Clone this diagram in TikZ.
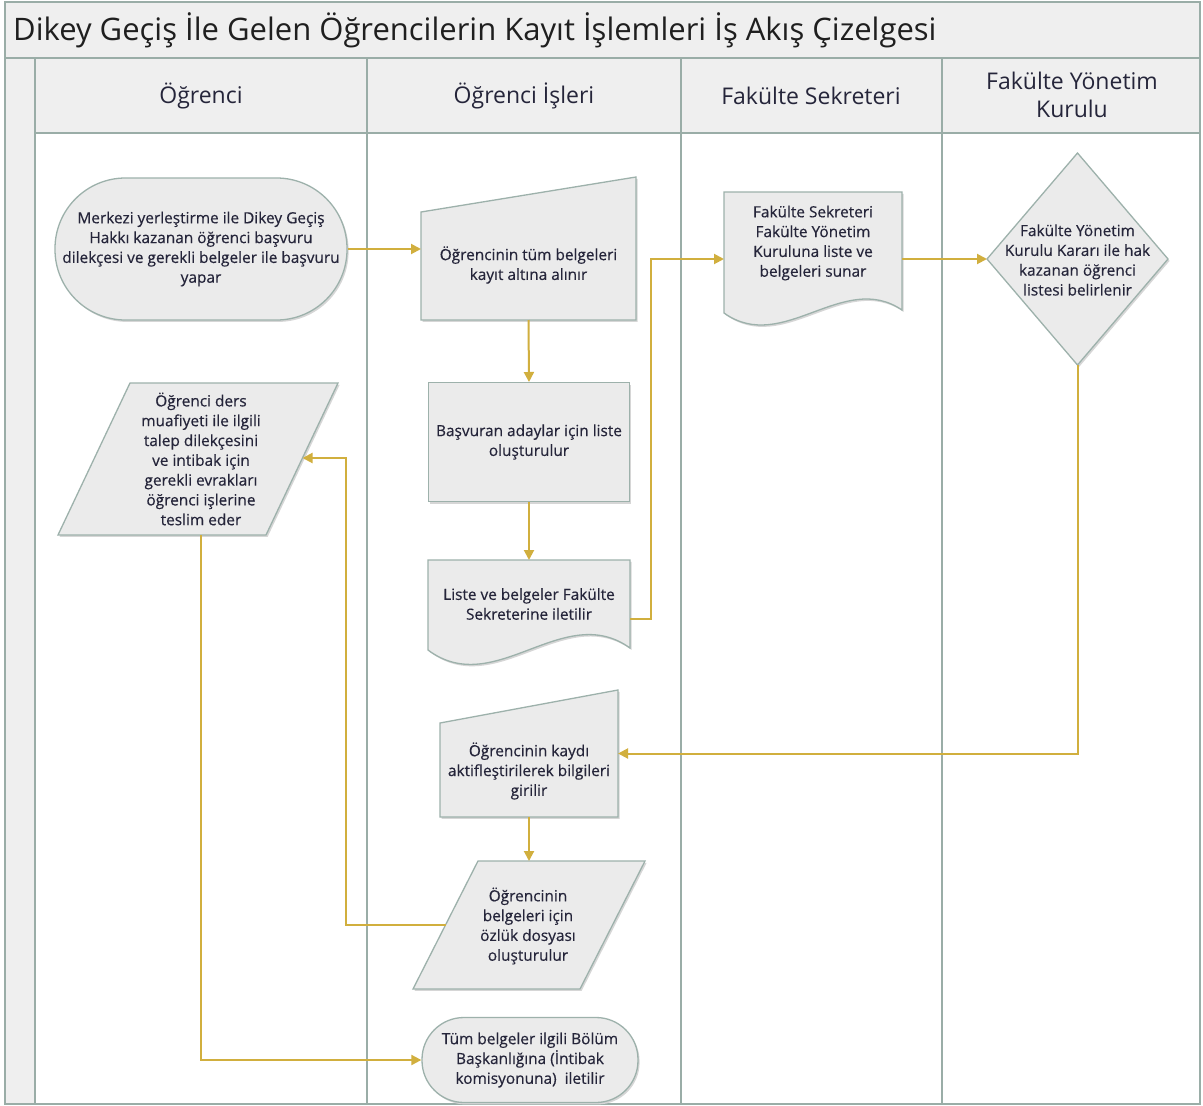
\documentclass[tikz,border=0pt]{standalone}
\usepackage{fontspec}
\setmainfont{Open Sans}
\usetikzlibrary{arrows.meta}
\definecolor{lanec}{HTML}{9AADA7}
\definecolor{shapefill}{HTML}{EBEBEB}
\definecolor{shapeline}{HTML}{9DB1AB}
\definecolor{shadowc}{HTML}{D6D6D6}
\definecolor{flowc}{HTML}{D1AF3E}
\definecolor{hdrfill}{HTML}{EFEFEF}
\definecolor{txtc}{HTML}{25253A}
\begin{document}
\begin{tikzpicture}[x=1pt,y=-1pt,
  anc/.style={rectangle,inner sep=0pt,outer sep=0pt},
  shp/.style={fill=shapefill,draw=shapeline,line width=1.3pt,
    preaction={fill=shadowc,transform canvas={shift={(1.6pt,-1.9pt)}}}},
  lbl/.style={align=center,text=txtc,font=\fontsize{15.4}{19.8}\selectfont\addfontfeature{FakeBold=0.4},inner sep=0pt},
  hdr/.style={align=center,text=txtc,font=\fontsize{23}{28}\selectfont,inner sep=0pt},
  flow/.style={draw=flowc,line width=2pt,-{Triangle[length=10pt,width=10pt]}},
  lane/.style={draw=lanec,line width=1.5pt}]
\useasboundingbox (0,0) rectangle (1203,1106);
% swimlane frame
\fill[white] (0,0) rectangle (1203,1106);
\fill[hdrfill] (5,2) rectangle (1200,133);
\fill[hdrfill] (5,133) rectangle (35,1104);
\draw[lane] (5,2) rectangle (1200,1104);
\draw[lane] (5,58) -- (1200,58);
\draw[lane] (35,133) -- (1200,133);
\draw[lane] (35,58) -- (35,1104);
\draw[lane] (367,58) -- (367,1104);
\draw[lane] (681,58) -- (681,1104);
\draw[lane] (942,58) -- (942,1104);
\node[anchor=west,text=black!88,font=\fontsize{31}{36}\selectfont,inner sep=0pt] (title) at (13,30) {Dikey Geçiş İle Gelen Öğrencilerin Kayıt İşlemleri İş Akış Çizelgesi};
\node[hdr] (h1) at (201,96) {Öğrenci};
\node[hdr] (h2) at (524,96) {Öğrenci İşleri};
\node[hdr] (h3) at (811,96) {Fakülte Sekreteri};
\node[hdr] (h4) at (1072,95) {Fakülte Yönetim\\Kurulu};
% s1 terminal
\node[shp,lbl,rectangle,rounded corners=70.5pt,minimum width=292,minimum height=142] (s1) at (201,249)
  {Merkezi yerleştirme ile Dikey Geçiş\\Hakkı kazanan öğrenci başvuru\\dilekçesi ve gerekli belgeler ile başvuru\\yapar};
% s2 manual input
\draw[shp] (421,212) -- (636,177) -- (636,320) -- (421,320) -- cycle;
\node[anc,minimum width=215,minimum height=143] (s2) at (528.5,248.5) {};
\node[lbl] (t2) at (528.5,265) {Öğrencinin tüm belgeleri\\kayıt altına alınır};
% s3 process
\draw[shp] (428.6,382.6) -- (629.6,382.6) -- (629.6,501.6) -- (428.6,501.6) -- cycle;
\node[anc,minimum width=202,minimum height=120] (s3) at (529,442) {};
\node[lbl] (t3) at (529,442) {Başvuran adaylar için liste\\oluşturulur};
% s4 document
\draw[shp] (428,560) -- (630,560) -- (630,648) .. controls (563,600) and (495,700) .. (428,650) -- cycle;
\node[anc,minimum width=202,minimum height=118] (s4) at (529,619) {};
\node[lbl] (t4) at (529,604) {Liste ve belgeler Fakülte\\Sekreterine iletilir};
% s5 document
\draw[shp] (724,192) -- (902,192) -- (902,310) .. controls (843,270) and (783,355) .. (724,313) -- cycle;
\node[anc,minimum width=178,minimum height=134] (s5) at (813,259) {};
\node[lbl] (t5) at (813,243) {Fakülte Sekreteri\\Fakülte Yönetim\\Kuruluna liste ve\\belgeleri sunar};
% s6 decision
\draw[shp] (1077.5,153) -- (1168,259) -- (1077.5,365) -- (987,259) -- cycle;
\node[anc,minimum width=181,minimum height=212] (s6) at (1077.5,259) {};
\node[lbl] (t6) at (1077.5,260) {Fakülte Yönetim\\Kurulu Kararı ile hak\\kazanan öğrenci\\listesi belirlenir};
% s7 data (parallelogram)
\draw[shp] (130,383) -- (338,383) -- (266,535) -- (58,535) -- cycle;
\node[anc,minimum width=280,minimum height=152] (s7) at (198,459) {};
\coordinate (s7r) at (302.5,458);
\coordinate (s7b) at (201,535);
\node[lbl] (t7) at (201,459) {Öğrenci ders\\muafiyeti ile ilgili\\talep dilekçesini\\ve intibak için\\gerekli evrakları\\öğrenci işlerine\\teslim eder};
% s8 manual input
\draw[shp] (440,723) -- (618,690) -- (618,817) -- (440,817) -- cycle;
\node[anc,minimum width=178,minimum height=127] (s8) at (529,753.5) {};
\node[lbl] (t8) at (529,771) {Öğrencinin kaydı\\aktifleştirilerek bilgileri\\girilir};
% s9 data
\draw[shp] (478,861) -- (645,861) -- (580,989) -- (413,989) -- cycle;
\node[anc,minimum width=232,minimum height=128] (s9) at (529,925) {};
\coordinate (s9l) at (445.5,925);
\node[lbl] (t9) at (528,926) {Öğrencinin\\belgeleri için\\özlük dosyası\\oluşturulur};
% s10 terminal
\node[shp,lbl,rectangle,rounded corners=42pt,minimum width=216,minimum height=85] (s10) at (530,1060)
  {Tüm belgeler ilgili Bölüm\\Başkanlığına (İntibak\\komisyonuna)~~iletilir};
% connectors
\draw[flow] (s1.east) -- (s2.west |- s1.east);
\draw[flow] (s2.south) -- (s3.north);
\draw[flow] (s3.south) -- (s4.north);
\draw[flow] (s4.east) -- ++(21,0) |- (s5.west);
\draw[flow] (s5.east) -- (s6.west);
\draw[flow] (s6.south) |- (s8.east);
\draw[flow] (s8.south) -- (s9.north);
\draw[flow] (s9l) -- ++(-100,0) |- (s7r);
\draw[flow] (s7b) |- (s10.west);
\end{tikzpicture}
\end{document}
